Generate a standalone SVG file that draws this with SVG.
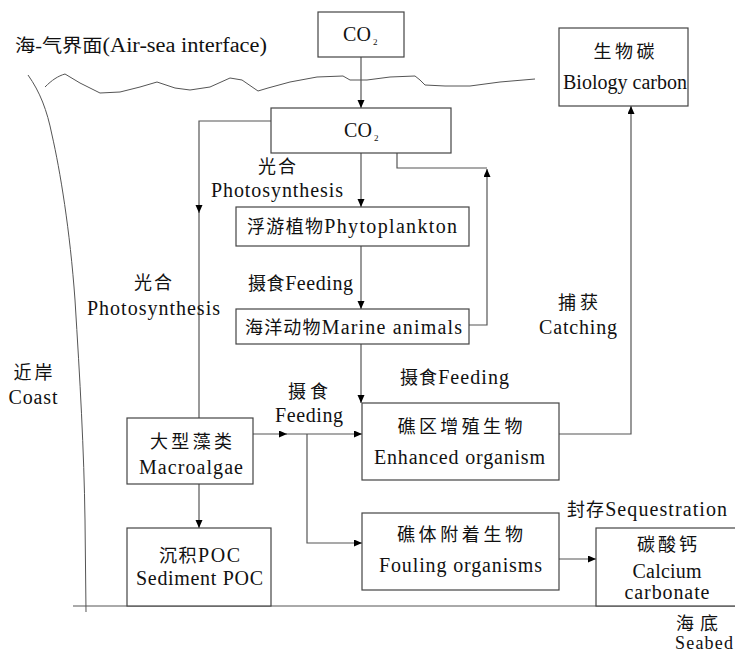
<svg xmlns="http://www.w3.org/2000/svg" width="735" height="655" viewBox="0 0 735 655">
<defs>
<style>
.box{fill:#fff;stroke:#444;stroke-width:1.2}
.c{fill:none;stroke:#555;stroke-width:1.2}
.a{marker-end:url(#ah)}
.t{font-family:"Liberation Serif","Noto Sans CJK SC",serif;font-size:20px;fill:#111}
.k{font-size:18px}
.m{text-anchor:middle}
.sub{font-family:"Liberation Serif",serif;font-size:9px;fill:#111}
.line{fill:none;stroke:#555;stroke-width:1}
</style>
<marker id="ah" markerWidth="9" markerHeight="8" refX="8" refY="3.5" orient="auto" markerUnits="userSpaceOnUse">
<path d="M0,0 L8,3.5 L0,7 z" fill="#000"/>
</marker>
</defs>
<rect width="735" height="655" fill="#fff"/>

<g id="background">
<path class="line" d="M28,75 C40,92 47,110 52,135 C60,170 70,230 75,300 C80,380 84,450 85,520 L86,612"/>
<path class="line" d="M45,87 C52,80 58,76 65,74 L80,83 L100,93 L120,92 L140,87 L157,82 L175,88 L190,90 L210,87 L230,78 L242,80 L258,91 L268,88 L290,82 L317,77 L343,76 L350,80 L367,80 L390,77 L415,76 L420,80 L425,85 L445,86 L470,86 L500,82 L535,79"/>
<path class="line" d="M73,606 H735"/>
<text class="t" x="15" y="52" textLength="252" lengthAdjust="spacingAndGlyphs"><tspan class="k">海-气界面</tspan>(Air-sea interface)</text>
<text class="t k m" x="33" y="379" textLength="39" lengthAdjust="spacing">近岸</text>
<text class="t m" x="33" y="404" textLength="49" lengthAdjust="spacing">Coast</text>
<text class="t k m" x="697" y="630" textLength="42" lengthAdjust="spacing">海底</text>
<text class="t m" x="704" y="649" style="font-size:18px" textLength="58" lengthAdjust="spacing">Seabed</text>
</g>

<g id="connectors">
<path class="c a" d="M361,57 V108"/>
<path class="c a" d="M361,153 V207"/>
<path class="c a" d="M361,246 V309"/>
<path class="c a" d="M361,344 V403"/>
<path class="c a" d="M271,121 H199 V213"/>
<path class="c" d="M199,212 V418"/>
<path class="c a" d="M199,484 V528"/>
<path class="c" d="M397,153 V168 H487"/>
<path class="c a" d="M469,325 H487 V169"/>
<path class="c a" d="M559,434 H631 V106"/>
<path class="c a" d="M253,434 H287"/>
<path class="c a" d="M286,434 H362"/>
<path class="c a" d="M307,434 V543 H362"/>
<path class="c a" d="M559,559 H596"/>
</g>

<g id="labels">
<text class="t k m" x="277" y="173" textLength="38" lengthAdjust="spacing">光合</text>
<text class="t" x="211" y="197" textLength="132" lengthAdjust="spacing">Photosynthesis</text>
<text class="t" x="248" y="290" textLength="105" lengthAdjust="spacing"><tspan class="k">摄食</tspan>Feeding</text>
<text class="t k m" x="153" y="289" textLength="38" lengthAdjust="spacing">光合</text>
<text class="t" x="87" y="315" textLength="133" lengthAdjust="spacing">Photosynthesis</text>
<text class="t" x="400" y="384" textLength="109" lengthAdjust="spacing"><tspan class="k">摄食</tspan>Feeding</text>
<text class="t k m" x="308" y="398" textLength="40" lengthAdjust="spacing">摄食</text>
<text class="t" x="275" y="422" textLength="68" lengthAdjust="spacing">Feeding</text>
<text class="t k m" x="578" y="309" textLength="40" lengthAdjust="spacing">捕获</text>
<text class="t" x="539" y="334" textLength="78" lengthAdjust="spacing">Catching</text>
<text class="t" x="567" y="516" textLength="160" lengthAdjust="spacing"><tspan class="k">封存</tspan>Sequestration</text>
</g>

<g id="co2-top">
<rect class="box" x="318" y="12" width="86" height="45"/>
<text class="t" x="343" y="41" textLength="28" lengthAdjust="spacing">CO</text>
<text class="sub" x="373" y="45">2</text>
</g>

<g id="biology-carbon">
<rect class="box" x="559" y="28" width="129" height="78"/>
<text class="t k m" x="624" y="58" textLength="61" lengthAdjust="spacing">生物碳</text>
<text class="t" x="563" y="89" textLength="124" lengthAdjust="spacing">Biology carbon</text>
</g>

<g id="co2-sea">
<rect class="box" x="271" y="108" width="180" height="45"/>
<text class="t" x="344" y="137" textLength="28" lengthAdjust="spacing">CO</text>
<text class="sub" x="374" y="141">2</text>
</g>

<g id="phytoplankton">
<rect class="box" x="236" y="207" width="233" height="39"/>
<text class="t" x="247" y="233" textLength="210" lengthAdjust="spacing"><tspan class="k">浮游植物</tspan>Phytoplankton</text>
</g>

<g id="marine-animals">
<rect class="box" x="236" y="309" width="233" height="35"/>
<text class="t" x="245" y="334" textLength="217" lengthAdjust="spacing"><tspan class="k">海洋动物</tspan>Marine animals</text>
</g>

<g id="enhanced-organism">
<rect class="box" x="362" y="403" width="197" height="77"/>
<text class="t k m" x="460" y="433" textLength="125" lengthAdjust="spacing">礁区增殖生物</text>
<text class="t" x="374" y="464" textLength="171" lengthAdjust="spacing">Enhanced organism</text>
</g>

<g id="macroalgae">
<rect class="box" x="127" y="418" width="126" height="66"/>
<text class="t k m" x="191" y="448" textLength="82" lengthAdjust="spacing">大型藻类</text>
<text class="t" x="139" y="474" textLength="104" lengthAdjust="spacing">Macroalgae</text>
</g>

<g id="sediment-poc">
<rect class="box" x="127" y="528" width="144" height="78"/>
<text class="t" x="159" y="562" textLength="81" lengthAdjust="spacing"><tspan class="k">沉积</tspan>POC</text>
<text class="t" x="136" y="585" textLength="127" lengthAdjust="spacing">Sediment POC</text>
</g>

<g id="fouling-organisms">
<rect class="box" x="362" y="513" width="197" height="77"/>
<text class="t k m" x="460" y="541" textLength="126" lengthAdjust="spacing">礁体附着生物</text>
<text class="t" x="379" y="572" textLength="163" lengthAdjust="spacing">Fouling organisms</text>
</g>

<g id="calcium-carbonate">
<rect class="box" x="596" y="528" width="150" height="78"/>
<text class="t k m" x="667" y="551" textLength="60" lengthAdjust="spacing">碳酸钙</text>
<text class="t m" x="667" y="578" textLength="69" lengthAdjust="spacing">Calcium</text>
<text class="t m" x="667" y="599" textLength="85" lengthAdjust="spacing">carbonate</text>
</g>
</svg>
